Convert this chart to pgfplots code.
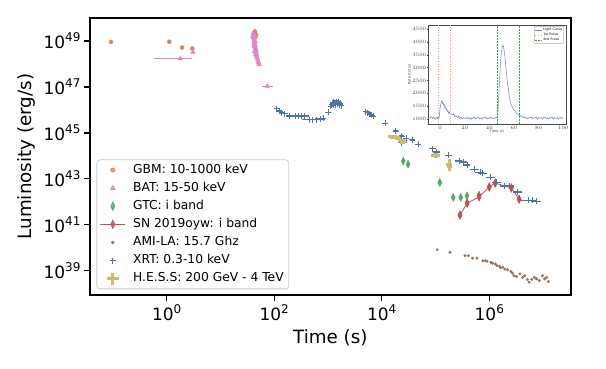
\documentclass[border=0pt]{standalone}
\usepackage{pgfplots}
\pgfplotsset{compat=1.18}
\usepackage{fontspec}
\setmainfont{DejaVu Sans}
\definecolor{cblue}{HTML}{4C72B0}
\definecolor{corange}{HTML}{DD8452}
\definecolor{cgreen}{HTML}{55A868}
\definecolor{cred}{HTML}{C44E52}
\definecolor{cbrown}{HTML}{937860}
\definecolor{cpink}{HTML}{DA8BC3}
\definecolor{cyellow}{HTML}{CCB974}
\definecolor{lcblue}{HTML}{6F86C0}
\definecolor{lgreen}{HTML}{3AA04A}
\definecolor{lorange}{HTML}{F2A36B}
\newcommand{\pw}[1]{10\raisebox{0.43em}{\fontsize{12}{12}\selectfont #1}}
\pgfplotsset{
  mleg/.style={legend image code/.code={\draw[##1,only marks] plot coordinates {(12.5pt,0pt)};}},
  lleg/.style={legend image code/.code={\draw[##1,mark repeat=2,mark phase=2] plot coordinates {(0pt,0pt) (12.5pt,0pt) (25pt,0pt)};}},
}
\begin{document}
\begin{tikzpicture}
\path[use as bounding box] (-90pt,-74pt) rectangle (516pt,295pt);
\begin{axis}[
  at={(0pt,0pt)}, anchor=south west,
  scale only axis, width=480.7pt, height=277pt,
  xmode=log, ymode=log,
  xmin=0.0375, xmax=3.27e7, ymin=8.71e37, ymax=1e50,
  axis line style={line width=1.6pt, black},
  xminorticks=false, yminorticks=false,
  xtick pos=bottom, ytick pos=left,
  xtick={1,100,1e4,1e6}, xticklabels={\pw{0},\pw{2},\pw{4},\pw{6}},
  ytick={1e39,1e41,1e43,1e45,1e47,1e49}, yticklabels={\pw{39},\pw{41},\pw{43},\pw{45},\pw{47},\pw{49}},
  tick align=outside, major tick length=6pt, tick style={line width=1.4pt, black},
  tick label style={font=\fontsize{17}{17}\selectfont},
  xlabel={Time (s)}, ylabel={Luminosity (erg/s)},
  label style={font=\fontsize{18.3}{20}\selectfont},
  xlabel style={at={(axis description cs:0.5,-0.155)}, anchor=center},
  ylabel style={at={(axis description cs:-0.133,0.5)}, anchor=center},
  legend cell align=left,
  legend style={at={(0,0)}, anchor=south west, xshift=6.5pt, yshift=5.7pt,
    draw=black!20, line width=0.8pt, rounded corners=3pt, fill=white, fill opacity=0.8, text opacity=1,
    font=\fontsize{12.3}{14}\selectfont, inner xsep=3pt, inner ysep=2pt,
    nodes={inner sep=2pt, text height=9.5pt, text depth=3pt},
    row sep=1.6pt,
    /tikz/every odd column/.style={column sep=5.5pt}},
]
% GBM
\addplot[only marks, mark=*, mark size=2pt, color=corange, mleg] coordinates {
 (0.092,9.1e48) (1.12,9.3e48) (1.94,5.2e48) (3.0,4.7e48)
 (43.7,2.6e49) (42.7,2.2e49) (45.7,1.9e49) (44.7,1.5e49) (42.2,1.7e49)
};
\addlegendentry{GBM: 10-1000 keV}
% BAT
\addplot[only marks, mark=triangle*, mark size=2.6pt, color=cpink, mleg,
  error bars/.cd, x dir=both, y dir=both, x explicit, y explicit,
  error bar style={line width=1.4pt, cpink}, error mark=none] coordinates {
 (1.78,1.7e48) += (1.14,0) -= (1.2,0)
 (3.09,3.3e48) +- (0,0)
 (74.1,1.07e47) += (21.4,1.6e46) -= (15.2,1.4e46)
 (40.7,2.2e49) +- (0,0) (41.2,2.0e49) +- (0,0) (41.7,1.78e49) +- (0,0) (41.7,1.41e49) +- (0,0)
 (42.2,1.26e49) +- (0,0) (42.7,1.0e49) +- (0,0) (42.7,8.9e48) +- (0,0) (43.2,7.9e48) +- (0,0)
 (43.7,7.1e48) +- (0,0) (43.7,6.3e48) +- (0,0) (44.2,5.6e48) +- (0,0) (44.7,5.0e48) +- (0,0)
 (44.7,4.5e48) +- (0,0) (45.2,4.0e48) +- (0,0) (45.7,3.55e48) +- (0,0) (45.7,3.16e48) +- (0,0)
 (46.2,2.8e48) +- (0,0) (46.8,2.5e48) +- (0,0) (47.3,2.24e48) +- (0,0) (47.9,2.0e48) +- (0,0)
 (49.0,1.58e48) +- (1.5,2e47) (50.1,1.26e48) +- (1.5,2e47) (51.3,1.12e48) +- (1.5,2e47) (52.5,9.3e47) +- (1.5,1.5e47)
 (40.0,1.6e49) +- (0,0) (43.0,1.1e49) +- (0,0) (44.0,9.5e48) +- (0,0) (42.0,6.0e48) +- (0,0)
 (46.0,4.2e48) +- (0,0) (43.0,3.5e48) +- (0,0) (45.0,2.6e48) +- (0,0)
};
\addlegendentry{BAT: 15-50 keV}
% GTC
\addplot[only marks, mark=diamond*, mark size=4pt, mark options={xscale=0.67}, color=cgreen, mleg] coordinates {
 (25120,5.9e43) (30900,4.3e43) (120200,6.9e42) (213800,1.55e42) (295100,1.55e42) (384600,1.82e42) (645700,1.95e42)
};
\addlegendentry{GTC: i band}
% SN 2019oyw
\addplot[line width=0.8pt, mark=diamond*, mark size=4pt, mark options={xscale=0.67}, color=cred, lleg] coordinates {
 (285100,2.63e41) (389000,8.7e41) (645700,1.62e42) (1e6,4.4e42) (1.29e6,6.5e42) (2.57e6,4.0e42) (3.59e6,1.29e42)
};
\addlegendentry{SN 2019oyw: i band}
% AMI-LA
\addplot[only marks, mark=*, mark size=1.3pt, color=cbrown, mleg] coordinates {
 (107200,8.1e39) (186200,6.3e39) (354800,4.47e39) (407400,4.47e39) (489800,3.47e39) (588800,3.47e39)
 (758600,2.69e39) (851100,2.69e39) (912000,2.57e39) (1.07e6,2.29e39) (1.15e6,2.09e39) (1.29e6,1.95e39)
 (1.38e6,1.66e39) (1.55e6,1.55e39) (1.62e6,1.32e39) (1.78e6,1.41e39) (1.95e6,1.17e39) (2.19e6,1.10e39)
 (2.51e6,9.3e38) (2.69e6,7.8e38) (2.88e6,6.0e38) (3.24e6,5.5e38) (3.72e6,7.2e38) (4.17e6,5.1e38)
 (4.57e6,6.0e38) (5.13e6,4.1e38) (5.50e6,3.16e38) (6.17e6,4.1e38) (6.92e6,5.1e38) (7.59e6,4.4e38)
 (8.51e6,3.7e38) (9.77e6,6.0e38) (1.07e7,4.4e38) (1.17e7,5.1e38) (1.26e7,3.3e38)
};
\addlegendentry{AMI-LA: 15.7 Ghz}
% XRT
\addplot[only marks, mark=+, mark size=3pt, line width=0.9pt, color=cblue, mleg,
  error bars/.cd, x dir=both, x explicit relative,
  error bar style={line width=1.3pt, cblue}, error mark=none] coordinates {
 (111,1.12e46) +- (0.12,0) (126,8.9e45) +- (0.12,0) (138,7.4e45) +- (0.12,0) (158,6.9e45) +- (0.15,0)
 (191,5.4e45) +- (0.15,0) (245,5.4e45) +- (0.25,0) (282,5.4e45) +- (0.25,0) (324,5.4e45) +- (0.25,0) (372,5.4e45) +- (0.2,0)
 (447,3.8e45) +- (0.25,0) (525,3.8e45) +- (0.25,0) (617,3.8e45) +- (0.25,0) (724,4.0e45) +- (0.2,0) (813,4.3e45) +- (0.15,0)
 (1000,7.9e45) +- (0.05,0)
 (1122,1.41e46) +- (0.05,0) (1175,1.66e46) +- (0.05,0) (1202,1.78e46) +- (0.05,0) (1230,2.0e46) +- (0.05,0)
 (1259,1.58e46) +- (0.05,0) (1288,2.14e46) +- (0.05,0) (1318,2.0e46) +- (0.05,0) (1349,1.66e46) +- (0.05,0)
 (1380,1.9e46) +- (0.05,0) (1413,2.29e46) +- (0.05,0) (1445,2.14e46) +- (0.05,0) (1479,2.0e46) +- (0.05,0)
 (1514,1.78e46) +- (0.05,0) (1549,2.24e46) +- (0.05,0) (1585,2.0e46) +- (0.05,0) (1622,1.82e46) +- (0.05,0)
 (1660,1.66e46) +- (0.05,0) (1698,1.9e46) +- (0.05,0) (1778,1.51e46) +- (0.05,0)
 (5012,8.3e45) +- (0.08,0) (5495,7.6e45) +- (0.08,0) (6026,6.6e45) +- (0.08,0) (6457,6.0e45) +- (0.08,0) (6918,5.4e45) +- (0.08,0)
 (11480,2.63e45) +- (0.1,0) (18200,1.2e45) +- (0.1,0) (23440,7.2e44) +- (0.1,0) (23440,3.7e44) +- (0.1,0)
 (28840,5.75e44) +- (0.1,0) (37150,4.9e44) +- (0.1,0) (47860,3.16e44) +- (0.1,0)
 (89130,2.04e44) +- (0.15,0) (104700,1.48e44) +- (0.15,0) (173800,1.05e44) +- (0.15,0) (275400,5.9e43) +- (0.15,0)
 (331100,5.4e43) +- (0.15,0) (389000,4.0e43) +- (0.15,0)
 (537000,2.57e43) +- (0.18,0) (676000,1.9e43) +- (0.18,0) (758600,1.74e43) +- (0.18,0) (1.07e6,1.17e43) +- (0.18,0)
 (1.38e6,7.1e42) +- (0.2,0) (1.95e6,4.8e42) +- (0.2,0)
 (2.4e6,4.8e42) +- (0.2,0) (3.39e6,2.63e42) +- (0.2,0) (5.25e6,1.17e42) +- (0.25,0) (6.31e6,1.15e42) +- (0.2,0) (7.59e6,1.05e42) +- (0.2,0)
};
\addlegendentry{XRT: 0.3-10 keV}
% H.E.S.S.
\addplot[only marks, mark=square*, mark size=1.8pt, color=cyellow,
  legend image code/.code={\draw[line width=2.6pt,cyellow] (6.5pt,0pt) -- (18.5pt,0pt); \draw[line width=2.6pt,cyellow] (12.5pt,-6pt) -- (12.5pt,6pt);},
  error bars/.cd, x dir=both, y dir=both, x explicit relative, y explicit relative,
  error bar style={line width=3pt, cyellow}, error mark=none] coordinates {
 (15850,6.8e44) += (0.2,0.15) -= (0.17,0.13)
 (19500,6.2e44) += (0.2,0.15) -= (0.17,0.13)
 (24270,4.3e44) += (0.2,0.15) -= (0.17,0.13)
 (100000,1.07e44) += (0.2,0.2) -= (0.17,0.17)
 (179900,4.0e43) += (0.15,0.78) -= (0.13,0.44)
};
\addlegendentry{H.E.S.S: 200 GeV - 4 TeV}
\end{axis}
\fill[white] (320pt,158pt) rectangle (479pt,276pt);
\begin{axis}[
  at={(338.3pt,171pt)}, anchor=south west,
  scale only axis, width=137.4pt, height=99pt,
  xmin=-9.5, xmax=102, ymin=805, ymax=4656,
  axis line style={line width=0.4pt, black!70},
  xtick pos=bottom, ytick pos=left,
  tick align=outside, major tick length=1.2pt, tick style={line width=0.3pt, black!70},
  xtick={0,20,40,60,80,100}, ytick={1000,1500,2000,2500,3000,3500,4000,4500},
  scaled ticks=false,
  /pgf/number format/1000 sep={},
  tick label style={font=\fontsize{3.3}{3.5}\selectfont, text=black!75, inner sep=0.8pt},
  xlabel={Time (s)}, ylabel={Rate (cnt/s)},
  label style={font=\fontsize{3.5}{4}\selectfont, text=black!75},
  xlabel style={yshift=3.5pt}, ylabel style={yshift=-3pt},
  legend cell align=left,
  legend style={at={(0.985,0.985)}, anchor=north east, font=\fontsize{3.3}{3.6}\selectfont,
    draw=black!20, line width=0.3pt, inner sep=0.6pt, nodes={inner sep=0.6pt}},
  legend image code/.code={\draw[#1] (0pt,0pt) -- (7pt,0pt);},
]
\addplot[draw=lcblue, line width=0.5pt] coordinates {
(-9,1050) (-8,1040) (-7,1090) (-6,1010) (-5,1070) (-4,980) (-3,1060) (-2,1020) (-1.5,1080) (-1,1000) (-0.5,1150)
(0,1400) (0.5,1550) (1,1650) (1.5,1720) (2,1600) (2.5,1640) (3,1520) (3.5,1560) (4,1430) (4.5,1470) (5,1360)
(5.5,1400) (6,1300) (6.5,1330) (7,1220) (7.5,1270) (8,1200) (9,1180) (10,1150) (11,1200) (12,1090) (13,1130)
(14,1060) (15,1110) (16,1020) (17,1080) (18,990) (19,1060) (20,1030) (21,1000) (22,1070) (23,1010) (24,1050)
(25,980) (26,1060) (27,1020) (28,1080) (29,1000) (30,1040) (31,1090) (32,1010) (33,1050) (34,990) (35,1060)
(36,1030) (37,1070) (38,1000) (39,1050) (40,1020) (41,1080) (42,1010) (43,1040) (44,1000) (45,1060) (46,1040)
(46.5,1100) (47,1300) (47.5,1700) (48,2200) (48.5,2700) (49,3100) (49.5,3450) (50,3650) (50.5,3800) (51,3880)
(51.5,3820) (52,3650) (52.5,3500) (53,3250) (53.5,3000) (54,2750) (54.5,2500) (55,2300) (55.5,2150) (56,1950)
(56.5,1800) (57,1700) (57.5,1600) (58,1520) (59,1430) (60,1350) (61,1300) (62,1230) (63,1200) (64,1150)
(65,1100) (66,1130) (67,1060) (68,1090) (69,1030) (70,1070) (71,1010) (72,1060) (73,1040) (74,1080) (75,1000)
(76,1050) (77,1030) (78,1070) (79,990) (80,1050) (81,1020) (82,1060) (83,1000) (84,1040) (85,1080) (86,1010)
(87,1050) (88,990) (89,1060) (90,1030) (91,1070) (92,1000) (93,1050) (94,1020) (95,1060) (96,990) (97,1040)
(98,1070) (99,1010) (100,1050)
};
\addlegendentry{Light Curve}
\addplot[draw=lorange, line width=0.6pt, dotted] coordinates {(-1.3,805) (-1.3,4656)};
\addlegendentry{1st Pulse}
\addplot[draw=lorange, line width=0.6pt, dotted, forget plot] coordinates {(8.1,805) (8.1,4656)};
\addplot[draw=lgreen, line width=0.6pt, dash pattern=on 2pt off 1pt] coordinates {(46.5,805) (46.5,4656)};
\addlegendentry{2nd Pulse}
\addplot[draw=lgreen, line width=0.6pt, dash pattern=on 2pt off 1pt, forget plot] coordinates {(64.3,805) (64.3,4656)};
\end{axis}
\end{tikzpicture}
\end{document}
